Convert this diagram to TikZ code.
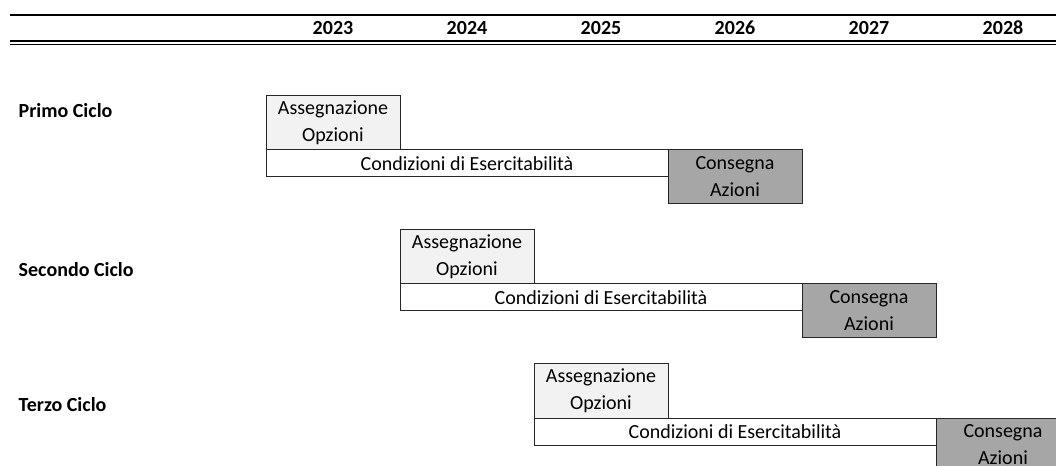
\documentclass[tikz,border=0pt]{standalone}
\usepackage{fontspec}
\setmainfont{Carlito}
\usetikzlibrary{math}
\definecolor{mylight}{RGB}{242,242,242}
\definecolor{mygrey}{RGB}{166,166,166}

\begin{document}
\begin{tikzpicture}[x=0.75pt,y=-0.75pt,
  font=\fontsize{15}{20.25}\selectfont,
  box/.style={draw=black!85, line width=0.75pt, inner sep=0pt, outer sep=0pt,
    align=center, anchor=north west, minimum width=100.5pt},
  tallbox/.style={box, minimum height=40.5pt},
  barbox/.style={box, minimum height=20.25pt, minimum width=301.5pt},
  cyclelabel/.style={font=\fontsize{15}{18}\selectfont\bfseries, anchor=west}]
\tikzmath{
\c=134;
\xo=266;
\yo=96;
}
\useasboundingbox (0,0) rectangle (1056,466);
\clip (0,0) rectangle (1056,466);

% header
\draw[line width=1.1pt] (10,15) -- (1056,15);
\draw[line width=1pt] (10,41) -- (1056,41);
\draw[line width=1pt] (10,44.5) -- (1056,44.5);
\foreach \yr [count=\k from 0] in {2023,2024,2025,2026,2027,2028}
  \node[font=\fontsize{15}{18}\selectfont\bfseries] (yr\k) at (333+\k*\c,28) {\yr};

% cycles
\foreach \i/\name/\ly in {0/Primo/111, 1/Secondo/270, 2/Terzo/405} {
  \node[cyclelabel] (lab\i) at (14,\ly) {\name\ Ciclo};
  \node[tallbox, fill=mylight] (ass\i) at (\xo+\i*\c,\yo+\i*\c) {Assegnazione\\Opzioni};
  \node[barbox, fill=white] (cond\i) at (ass\i.south west) {Condizioni di Esercitabilità};
  \node[tallbox, fill=mygrey] (cons\i) at (cond\i.north east) {Consegna\\Azioni};
}
\end{tikzpicture}
\end{document}
